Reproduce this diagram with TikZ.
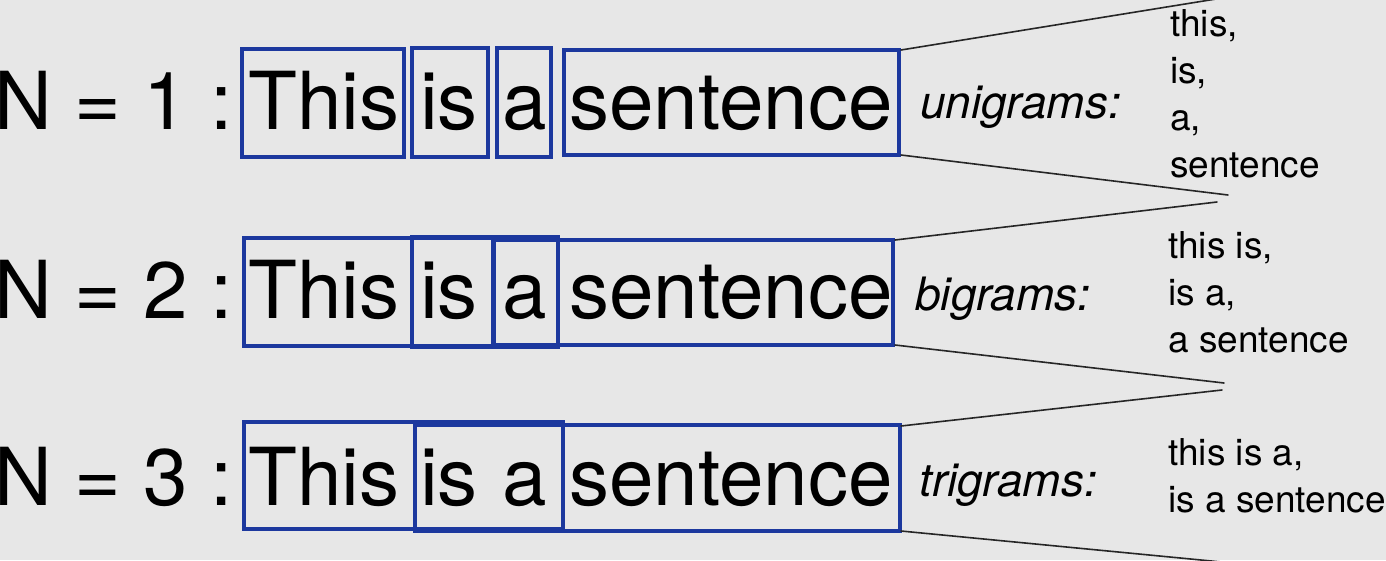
\documentclass[tikz,border=0pt]{standalone}
\usepackage{fontspec}
\setmainfont{TeX Gyre Heros}
\definecolor{bg}{RGB}{231,231,231}
\definecolor{boxblue}{RGB}{28,56,158}
\begin{document}
\begin{tikzpicture}[x=1pt,y=-1pt,
  big/.style={font=\fontsize{80}{96}\selectfont, inner sep=0pt, anchor=base west},
  nlab/.style={font=\fontsize{80}{96}\selectfont, inner sep=0pt, anchor=base east},
  kind/.style={font=\fontsize{46}{55}\selectfont\itshape, inner sep=0pt, anchor=base west},
  gram/.style={font=\fontsize{37}{47}\selectfont, inner sep=0pt, anchor=base west},
  wbox/.style={draw=boxblue, line width=3.1pt},
  link/.style={draw=black!85, line width=1.6pt, line cap=round}]
\useasboundingbox (0,0) rectangle (1386,560);
\fill[bg] (0,0) rectangle (1386,560);
\clip (0,0) rectangle (1386,560);

% ---- row labels
\node[nlab] (n1) at (233,129) {N = 1 :};
\node[nlab] (n2) at (233,318) {N = 2 :};
\node[nlab] (n3) at (233,505) {N = 3 :};

% ---- words
\foreach \r/\y in {1/129,2/318,3/505}{
  \node[big] (this\r) at (248,\y) {This};
  \node[big] (is\r) at (420,\y) {is};
  \node[big] (a\r) at (502,\y) {a};
  \node[big] (sent\r) at (569,\y) {sentence};
}

% ---- row 1 boxes (unigrams)
\draw[wbox] (242,49) rectangle (404,157);
\draw[wbox] (412,48) rectangle (488,157);
\draw[wbox] (497,48) rectangle (551,157);
\draw[wbox] (564,50) rectangle (899,155);
\coordinate (r1t) at (901,50);
\coordinate (r1b) at (901,155);

% ---- row 2 boxes (bigrams)
\draw[wbox] (244,238) rectangle (493,346);
\draw[wbox] (412,237) rectangle (558,347);
\draw[wbox] (494,240) rectangle (893,345);
\coordinate (r2t) at (895,240);
\coordinate (r2b) at (895,345);

% ---- row 3 boxes (trigrams)
\draw[wbox] (244,422) rectangle (563,529);
\draw[wbox] (415,425) rectangle (900,531);
\coordinate (r3t) at (901,426);
\coordinate (r3b) at (901,531);

% ---- kind labels
\node[kind] (uni) at (920,118) {unigrams:};
\node[kind] (bi) at (915,310) {bigrams:};
\node[kind] (tri) at (919,496) {trigrams:};

% ---- n-gram lists
\node[gram] (u1) at (1170,36) {this,};
\node[gram] (u2) at (1170,83) {is,};
\node[gram] (u3) at (1170,130) {a,};
\node[gram] (u4) at (1170,177) {sentence};

\node[gram] (b1) at (1168,258) {this is,};
\node[gram] (b2) at (1168,305) {is a,};
\node[gram] (b3) at (1168,352) {a sentence};

\node[gram] (t1) at (1168,465) {this is a,};
\node[gram] (t2) at (1168,512) {is a sentence};

% ---- bracket lines
\coordinate (e1t) at (1216,-1);
\coordinate (e1b) at (1228,195);
\coordinate (e2t) at (1217,202);
\coordinate (e2b) at (1224,383);
\coordinate (e3t) at (1222,390);
\coordinate (e3b) at (1232,563);
\draw[link] (r1t) -- (e1t);
\draw[link] (r1b) -- (e1b);
\draw[link] (r2t) -- (e2t);
\draw[link] (r2b) -- (e2b);
\draw[link] (r3t) -- (e3t);
\draw[link] (r3b) -- (e3b);
\end{tikzpicture}
\end{document}
